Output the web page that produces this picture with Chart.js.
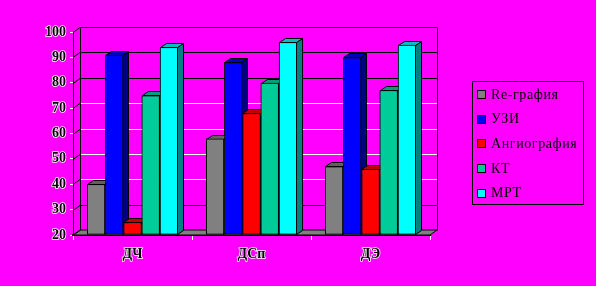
<!DOCTYPE html>
<html>
<head>
<meta charset="utf-8">
<script src="https://cdn.jsdelivr.net/npm/chart.js@4"></script>
<style>
  html, body { margin: 0; padding: 0; background: #ff00ff; }
  #wrap { width: 596px; height: 286px; }
</style>
</head>
<body>
<div id="wrap"><canvas id="chart" width="596" height="286"></canvas></div>
<script>
// --- data ---
const categories = ['ДЧ', 'ДСп', 'ДЭ'];
const seriesNames = ['Re-графия', 'УЗИ', 'Ангиография', 'КТ', 'МРТ'];
const reGrafia = [40, 58, 47];
const uzi = [91, 88, 90];
const angio = [25, 68, 46];
const kt = [75, 80, 77];
const mrt = [94, 96, 95];
const yTicks = [20, 30, 40, 50, 60, 70, 80, 90, 100];

const seriesValues = [reGrafia, uzi, angio, kt, mrt];
const frontColors = ['#808080', '#0000ff', '#ff0000', '#00cc99', '#00ffff'];
const topColors   = ['#606060', '#0000c0', '#c00000', '#00a07a', '#00c0c0'];
const sideColors  = ['#404040', '#000080', '#800000', '#007a5c', '#008080'];

// wall depth and bar depth (screen px)
const WX = 7, WY = 5;
const BX = 6, BY = 4;
const whiteGrid = [40, 50, 60, 70];

function line(ctx, x1, y1, x2, y2, color) {
    ctx.strokeStyle = color;
    ctx.beginPath();
    ctx.moveTo(x1, y1);
    ctx.lineTo(x2, y2);
    ctx.stroke();
}

function poly(ctx, pts, fill) {
    ctx.beginPath();
    ctx.moveTo(pts[0][0], pts[0][1]);
    pts.slice(1).forEach(p => ctx.lineTo(p[0], p[1]));
    ctx.closePath();
    ctx.fillStyle = fill;
    ctx.fill();
    ctx.strokeStyle = '#000';
    ctx.stroke();
}

const fake3d = {
    id: 'fake3d',
    beforeDatasetsDraw(chart) {
        const { ctx, chartArea: a, scales: { y } } = chart;
        ctx.save();
        ctx.lineWidth = 1;
        // floor
        poly(ctx, [[a.left, a.bottom], [a.right, a.bottom], [a.right + WX, a.bottom - WY], [a.left + WX, a.bottom - WY]], '#808080');
        // back wall grid + diagonals from the front axis
        yTicks.forEach(v => {
            const py = Math.round(y.getPixelForValue(v)) + 0.5;
            line(ctx, a.left, py, a.left + WX, py - WY, '#000');
            if (v > yTicks[0]) {
                line(ctx, a.left + WX, py - WY, a.right + WX, py - WY, whiteGrid.includes(v) ? '#fff' : '#000');
            }
        });
        const top = Math.round(y.getPixelForValue(yTicks[yTicks.length - 1])) + 0.5 - WY;
        const bot = Math.round(y.getPixelForValue(yTicks[0])) + 0.5 - WY;
        line(ctx, a.left + WX + 0.5, top, a.left + WX + 0.5, bot, '#000');
        line(ctx, a.right + WX + 0.5, top, a.right + WX + 0.5, bot, '#000');
        ctx.restore();
    },
    afterDatasetsDraw(chart) {
        const ctx = chart.ctx;
        ctx.save();
        ctx.lineWidth = 1;
        // left-to-right so each bar hides the side face of the one before it
        chart.data.datasets.forEach((ds, i) => {
            const meta = chart.getDatasetMeta(i);
            meta.data.forEach(bar => {
                const { x, y, width, base } = bar.getProps(['x', 'y', 'width', 'base'], true);
                const l = Math.round(x - width / 2) + 0.5, r = Math.round(x + width / 2) - 0.5;
                const t = Math.round(y) + 0.5, b = Math.round(base) - 0.5;
                poly(ctx, [[r, t], [r + BX, t - BY], [r + BX, b - BY], [r, b]], sideColors[i]);
                poly(ctx, [[l, t], [r, t], [r + BX, t - BY], [l + BX, t - BY]], topColors[i]);
                bar.draw(ctx);
            });
        });
        ctx.restore();
    },
    afterDraw(chart) {
        const ctx = chart.ctx;
        ctx.save();
        ctx.lineWidth = 1;
        ctx.strokeStyle = '#000';
        ctx.strokeRect(472.5, 81.5, 111, 123);
        ctx.font = '14px "Liberation Serif"';
        ctx.letterSpacing = '0.6px';
        ctx.textBaseline = 'middle';
        chart.data.datasets.forEach((ds, i) => {
            const cy = 94 + i * 24.7;
            ctx.fillStyle = frontColors[i];
            ctx.fillRect(477, Math.round(cy) - 4, 8, 8);
            ctx.strokeStyle = '#000';
            ctx.strokeRect(477.5, Math.round(cy) - 3.5, 8, 8);
            ctx.fillStyle = '#000';
            ctx.fillText(ds.label, 491, cy + 1);
        });
        ctx.restore();
    }
};

new Chart(document.getElementById('chart'), {
    type: 'bar',
    data: {
        labels: categories,
        datasets: seriesNames.map((name, i) => ({
            label: name,
            data: seriesValues[i],
            base: yTicks[0],
            backgroundColor: frontColors[i],
            borderColor: '#000',
            borderWidth: 1,
            borderSkipped: false,
            categoryPercentage: 0.765,
            barPercentage: 1
        }))
    },
    options: {
        responsive: false,
        animation: false,
        devicePixelRatio: 1,
        layout: { padding: { top: 32, right: 166, left: 0, bottom: 0 } },
        plugins: { legend: { display: false }, tooltip: { enabled: false } },
        scales: {
            x: {
                afterFit: s => { s.height = 51; },
                grid: { offset: true, drawOnChartArea: false, tickLength: 5, tickColor: '#fff' },
                border: { color: '#000', width: 2 },
                ticks: {
                    color: '#000', textStrokeColor: '#fff', textStrokeWidth: 1.5, padding: 6,
                    font: { family: 'Liberation Serif', size: 14, weight: 'bold' }
                }
            },
            y: {
                min: yTicks[0],
                max: yTicks[yTicks.length - 1],
                afterFit: s => { s.width = 73; },
                afterBuildTicks: s => { s.ticks = yTicks.map(v => ({ value: v })); },
                grid: { drawOnChartArea: false, tickLength: 3, tickColor: '#fff' },
                border: { color: '#000', width: 1 },
                ticks: {
                    color: '#000', textStrokeColor: '#fff', textStrokeWidth: 1.5, padding: 4,
                    font: { family: 'Liberation Serif', size: 14, weight: 'bold' }
                }
            }
        }
    },
    plugins: [fake3d]
});
</script>
</body>
</html>
